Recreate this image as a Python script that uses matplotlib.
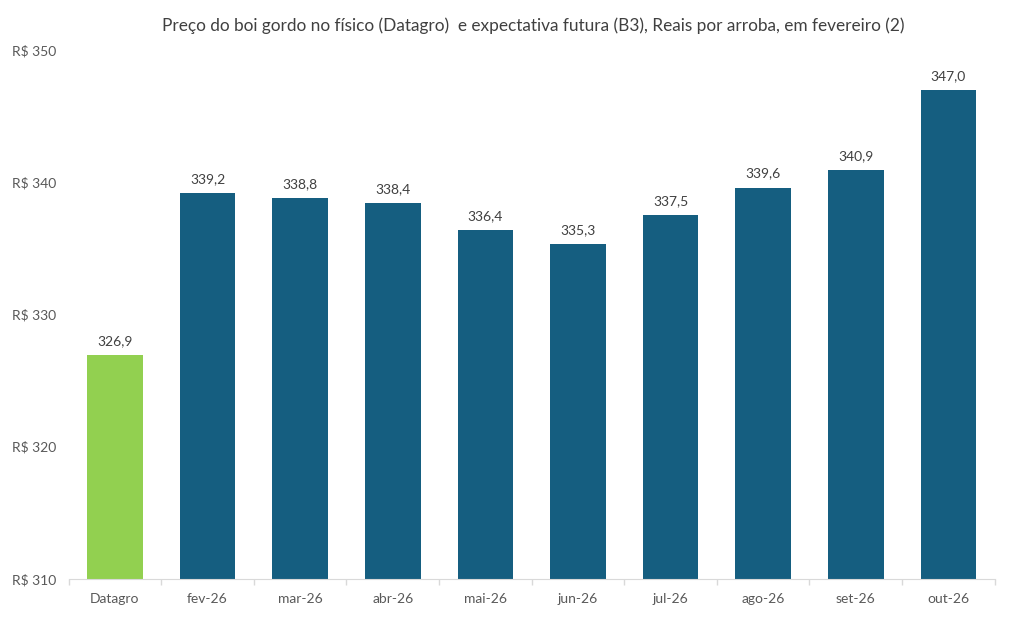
import numpy as np
import matplotlib.pyplot as plt
from matplotlib.ticker import FixedLocator

plt.rcParams['font.family'] = ['Lato', 'DejaVu Sans']

# dados
categorias = ['Datagro', 'fev-26', 'mar-26', 'abr-26', 'mai-26', 'jun-26',
              'jul-26', 'ago-26', 'set-26', 'out-26']
precos = [326.9, 339.2, 338.8, 338.4, 336.4, 335.3, 337.5, 339.6, 340.9, 347.0]
yticks = [310, 320, 330, 340, 350]

azul = '#155E80'
verde = '#92D050'
cores = [verde] + [azul] * (len(categorias) - 1)

fig = plt.figure(figsize=(10.30, 6.29), dpi=100)
ax = fig.add_axes([0.0667, 0.0795, 0.899, 0.841])

x = np.arange(len(categorias))
barras = ax.bar(x, np.array(precos) - 310, bottom=310, width=0.6, color=cores)

for xi, v in zip(x, precos):
    ax.text(xi, v + 0.6, f'{v:.1f}'.replace('.', ','), ha='center', va='bottom',
            fontsize=10, color='#404040')

ax.set_xlim(-0.5, len(categorias) - 0.5)
ax.set_ylim(310, 350)
ax.set_xticks(x)
ax.set_xticklabels(categorias, fontsize=10, color='#595959')
ax.xaxis.set_minor_locator(FixedLocator(np.arange(-0.5, len(categorias), 1)))
ax.tick_params(axis='x', which='major', length=0, pad=10)
ax.tick_params(axis='x', which='minor', length=4, color='#D9D9D9', width=1)

ax.set_yticks(yticks)
ax.set_yticklabels([f'R$ {t}' for t in yticks], fontsize=10, color='#595959')
ax.tick_params(axis='y', length=0, pad=41)
for lbl in ax.get_yticklabels():
    lbl.set_horizontalalignment('left')

for s in ['top', 'right', 'left']:
    ax.spines[s].set_visible(False)
ax.spines['bottom'].set_color('#D9D9D9')

fig.text(0.518, 0.959, 'Preço do boi gordo no físico (Datagro)  e expectativa futura (B3), Reais por arroba, em fevereiro (2)',
         ha='center', va='center', fontsize=12.4, color='#404040')

fig.savefig('out.png', dpi=100)
